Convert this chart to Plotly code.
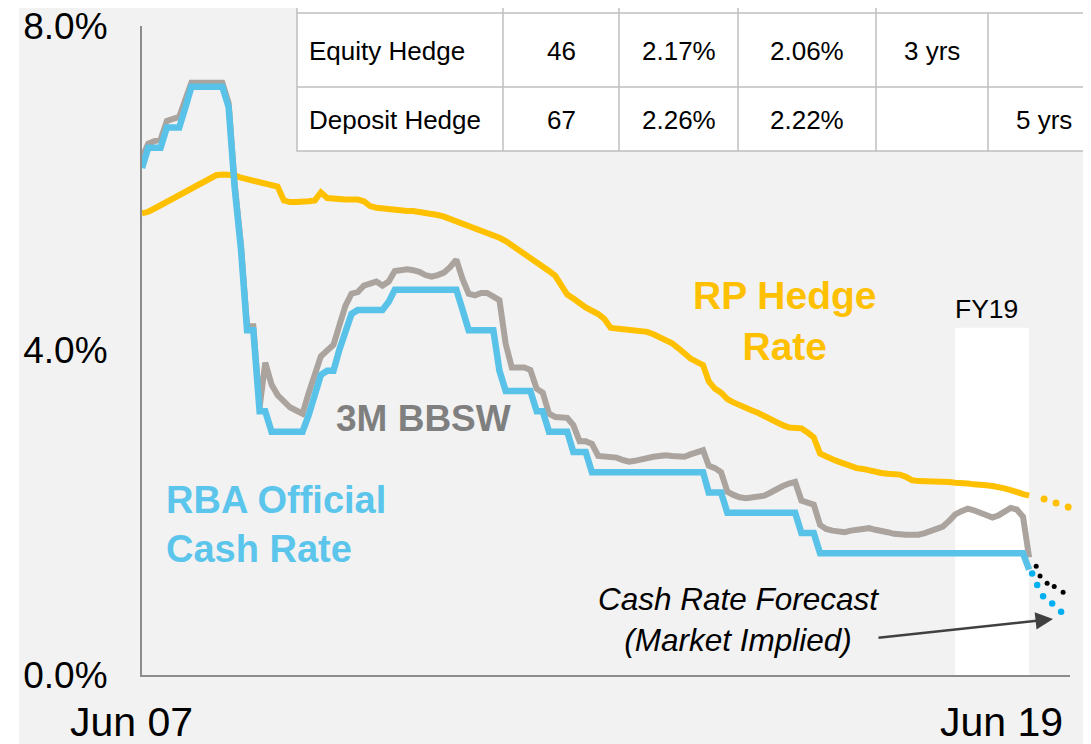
import pandas as pd
import plotly.graph_objects as go

# ---------------- data ----------------
months = pd.date_range("2007-06-30", periods=145, freq="ME")

rba_cash_rate = [
    6.25, 6.5, 6.5, 6.5, 6.75, 6.75, 6.75, 7.0, 7.25, 7.25,
    7.25, 7.25, 7.25, 7.25, 7.0, 6.0, 5.25, 4.25, 4.25, 3.25,
    3.25, 3.0, 3.0, 3.0, 3.0, 3.0, 3.0, 3.2, 3.45, 3.7,
    3.75, 3.75, 4.0, 4.25, 4.45, 4.5, 4.5, 4.5, 4.5, 4.5,
    4.6, 4.75, 4.75, 4.75, 4.75, 4.75, 4.75, 4.75, 4.75, 4.75,
    4.75, 4.75, 4.5, 4.25, 4.25, 4.25, 4.25, 4.25, 3.75, 3.5,
    3.5, 3.5, 3.5, 3.5, 3.25, 3.25, 3.0, 3.0, 3.0, 3.0,
    2.75, 2.75, 2.75, 2.5, 2.5, 2.5, 2.5, 2.5, 2.5, 2.5,
    2.5, 2.5, 2.5, 2.5, 2.5, 2.5, 2.5, 2.5, 2.5, 2.5,
    2.5, 2.5, 2.25, 2.25, 2.25, 2.0, 2.0, 2.0, 2.0, 2.0,
    2.0, 2.0, 2.0, 2.0, 2.0, 2.0, 2.0, 1.75, 1.75, 1.75,
    1.5, 1.5, 1.5, 1.5, 1.5, 1.5, 1.5, 1.5, 1.5, 1.5,
    1.5, 1.5, 1.5, 1.5, 1.5, 1.5, 1.5, 1.5, 1.5, 1.5,
    1.5, 1.5, 1.5, 1.5, 1.5, 1.5, 1.5, 1.5, 1.5, 1.5,
    1.5, 1.5, 1.5, 1.5, 1.3,
]

bbsw_3m = [
    6.38, 6.55, 6.58, 6.6, 6.83, 6.85, 6.88, 7.1, 7.3, 7.3,
    7.3, 7.3, 7.3, 7.3, 7.05, 6.05, 5.3, 4.3, 4.3, 3.3,
    3.85, 3.58, 3.45, 3.38, 3.3, 3.26, 3.22, 3.47, 3.7, 3.93,
    4.0, 4.07, 4.3, 4.55, 4.7, 4.72, 4.8, 4.82, 4.85, 4.8,
    4.85, 4.98, 4.99, 5.0, 4.99, 4.97, 4.93, 4.91, 4.93, 4.96,
    5.03, 5.12, 4.88, 4.7, 4.68, 4.71, 4.71, 4.67, 4.62, 4.08,
    3.79, 3.79, 3.79, 3.76, 3.53, 3.48, 3.22, 3.18, 3.18, 3.17,
    3.08, 2.88, 2.88, 2.85, 2.7, 2.69, 2.69, 2.68, 2.65, 2.63,
    2.64, 2.66, 2.68, 2.69, 2.7, 2.71, 2.7, 2.69, 2.69, 2.72,
    2.75, 2.77, 2.58, 2.55, 2.5, 2.26, 2.22, 2.19, 2.18, 2.19,
    2.2, 2.21, 2.25, 2.3, 2.33, 2.36, 2.38, 2.15, 2.12, 2.1,
    1.85, 1.8, 1.78, 1.77, 1.76, 1.78, 1.79, 1.8, 1.81, 1.79,
    1.78, 1.76, 1.74, 1.73, 1.73, 1.73, 1.73, 1.75, 1.77, 1.79,
    1.83, 1.9, 1.98, 2.02, 2.05, 2.03, 2.0, 1.97, 1.94, 1.97,
    2.02, 2.06, 2.04, 1.95, 1.45,
]

rp_hedge_rate = [
    5.69, 5.71, 5.75, 5.79, 5.83, 5.87, 5.92, 5.95, 5.99, 6.04,
    6.08, 6.13, 6.16, 6.17, 6.17, 6.16, 6.13, 6.11, 6.09, 6.07,
    6.05, 6.03, 6.02, 5.85, 5.83, 5.83, 5.83, 5.84, 5.85, 5.95,
    5.88, 5.87, 5.87, 5.86, 5.86, 5.86, 5.84, 5.78, 5.76, 5.75,
    5.74, 5.73, 5.73, 5.72, 5.72, 5.71, 5.70, 5.69, 5.67, 5.65,
    5.62, 5.59, 5.56, 5.53, 5.50, 5.48, 5.46, 5.43, 5.39, 5.35,
    5.30, 5.24, 5.18, 5.15, 5.09, 5.04, 4.98, 4.92, 4.80, 4.69,
    4.64, 4.58, 4.53, 4.49, 4.45, 4.39, 4.28, 4.27, 4.26, 4.25,
    4.25, 4.24, 4.23, 4.20, 4.17, 4.14, 4.09, 4.03, 3.96, 3.90,
    3.86, 3.82, 3.62, 3.53, 3.48, 3.40, 3.36, 3.32, 3.29, 3.26,
    3.23, 3.19, 3.15, 3.11, 3.08, 3.05, 3.05, 3.04, 2.99, 2.93,
    2.73, 2.69, 2.66, 2.63, 2.60, 2.57, 2.55, 2.54, 2.52, 2.51,
    2.49, 2.48, 2.47, 2.47, 2.44, 2.40, 2.39, 2.39, 2.39, 2.38,
    2.38, 2.38, 2.37, 2.37, 2.36, 2.35, 2.35, 2.34, 2.33, 2.32,
    2.30, 2.28, 2.25, 2.23, 2.21,
]

# market implied forecasts (dotted continuations)
fc_cash_dates = ["2019-07-15", "2019-08-09", "2019-09-07", "2019-10-22", "2019-12-05"]
fc_cash_vals = [1.25, 1.11, 0.97, 0.88, 0.78]
fc_bbsw_dates = ["2019-08-04", "2019-08-23", "2019-09-27", "2019-11-01", "2019-12-15"]
fc_bbsw_vals = [1.34, 1.22, 1.13, 1.09, 1.02]
fc_rp_dates = ["2019-09-12", "2019-11-10", "2020-01-09"]
fc_rp_vals = [2.17, 2.12, 2.07]

fy19_band = ("2018-06-30", "2019-06-30")

y_tick_vals = [0, 4, 8]
y_tick_text = ["0.0%", "4.0%", "8.0%"]
x_tick_labels = ["Jun 07", "Jun 19"]

table_rows = [
    ["Equity Hedge", "46", "2.17%", "2.06%", "3 yrs", ""],
    ["Deposit Hedge", "67", "2.26%", "2.22%", "", "5 yrs"],
]

# ---------------- styling ----------------
FONT = "Liberation Sans, Arial, sans-serif"
BG = "#f2f2f2"
C_RP = "#FFC000"
C_BBSW = "#AAA39E"
C_RBA = "#58C2E8"
C_FC_RBA = "#00B0F0"

# the page body adds an 8px margin, so the figure is drawn 8px smaller and shifted
OFF = 8
W, H = 1091 - OFF, 744 - OFF
ML, MR, MT, MB = 142 - OFF, 21, 26 - OFF, 69
PW, PH = W - ML - MR, H - MT - MB


def px(x):
    # page pixel x -> paper fraction
    return (x - OFF - ML) / PW


def py(y):
    # page pixel y -> paper fraction
    return (H - MB - (y - OFF)) / PH


fig = go.Figure()

fig.add_trace(go.Scatter(x=months, y=rp_hedge_rate, mode="lines",
                         line=dict(color=C_RP, width=6), name="RP Hedge Rate"))
fig.add_trace(go.Scatter(x=months, y=bbsw_3m, mode="lines",
                         line=dict(color=C_BBSW, width=6), name="3M BBSW"))
fig.add_trace(go.Scatter(x=months, y=rba_cash_rate, mode="lines",
                         line=dict(color=C_RBA, width=6.5), name="RBA Official Cash Rate"))
fig.add_trace(go.Scatter(x=fc_rp_dates, y=fc_rp_vals, mode="markers", cliponaxis=False,
                         marker=dict(color=C_RP, size=7)))
fig.add_trace(go.Scatter(x=fc_bbsw_dates, y=fc_bbsw_vals, mode="markers", cliponaxis=False,
                         marker=dict(color="#000000", size=5)))
fig.add_trace(go.Scatter(x=fc_cash_dates, y=fc_cash_vals, mode="markers", cliponaxis=False,
                         marker=dict(color=C_FC_RBA, size=6.5)))

shapes = []
# FY19 white band
shapes.append(dict(type="rect", xref="x", yref="y", x0=fy19_band[0], x1=fy19_band[1],
                   y0=0, y1=4.28, fillcolor="white", line=dict(width=0), layer="below"))
# white strip at left edge of slide
shapes.append(dict(type="rect", xref="paper", yref="paper", x0=px(OFF - 2), x1=px(19),
                   y0=py(760), y1=py(-5), fillcolor="white", line=dict(width=0), layer="below"))

# table
TB = "#BFBFBF"
tx0, tx1 = 297, 1100
ty_top, ty_r1, ty_r2, ty_bot = -5, 13, 87, 151
col_x = [297, 503, 619, 738, 876, 988]
shapes.append(dict(type="rect", xref="paper", yref="paper", x0=px(tx0), x1=px(tx1),
                   y0=py(ty_bot), y1=py(ty_top), fillcolor="white",
                   line=dict(color=TB, width=1.5), layer="above"))
for yy in (ty_r1, ty_r2):
    shapes.append(dict(type="line", xref="paper", yref="paper", x0=px(tx0), x1=px(tx1),
                       y0=py(yy), y1=py(yy), line=dict(color=TB, width=1.5), layer="above"))
for xx in col_x[1:]:
    top = ty_r1 if xx == 988 else ty_top
    shapes.append(dict(type="line", xref="paper", yref="paper", x0=px(xx), x1=px(xx),
                       y0=py(ty_bot), y1=py(top), line=dict(color=TB, width=1.5), layer="above"))

annotations = []
row_y = [51, 120]
col_edges = col_x + [tx1]
for r, row in enumerate(table_rows):
    for c, txt in enumerate(row):
        if not txt:
            continue
        if c == 0:
            annotations.append(dict(xref="paper", yref="paper", x=px(col_x[0] + 10), y=py(row_y[r]),
                                    text=txt, showarrow=False, xanchor="left", yanchor="middle",
                                    font=dict(family=FONT, size=26, color="#000")))
        else:
            cx = (col_edges[c] + col_edges[c + 1]) / 2
            annotations.append(dict(xref="paper", yref="paper", x=px(cx), y=py(row_y[r]),
                                    text=txt, showarrow=False, xanchor="center", yanchor="middle",
                                    font=dict(family=FONT, size=26, color="#000")))

# series labels
annotations += [
    dict(xref="paper", yref="paper", x=px(785), y=py(321), text="RP Hedge<br>Rate",
         showarrow=False, xanchor="center", yanchor="middle", align="center",
         font=dict(family=FONT, size=39, color=C_RP, weight="bold")),
    dict(xref="paper", yref="paper", x=px(423), y=py(418), text="3M BBSW",
         showarrow=False, xanchor="center", yanchor="middle",
         font=dict(family=FONT, size=37, color="#7F7F7F", weight="bold")),
    dict(xref="paper", yref="paper", x=px(164), y=py(524), text="RBA Official<br>Cash Rate",
         showarrow=False, xanchor="left", yanchor="middle", align="left",
         font=dict(family=FONT, size=38, color="#5BC5EC", weight="bold")),
    dict(xref="paper", yref="paper", x=px(738), y=py(619),
         text="<i>Cash Rate Forecast</i><br><i>(Market Implied)</i>",
         showarrow=False, xanchor="center", yanchor="middle", align="center",
         font=dict(family=FONT, size=31.5, color="#000")),
    dict(xref="paper", yref="paper", x=px(986), y=py(309), text="FY19",
         showarrow=False, xanchor="center", yanchor="middle",
         font=dict(family=FONT, size=26.5, color="#000")),
    # arrow
    dict(xref="paper", yref="paper", x=px(1053), y=py(619), ax=877 - 1053, ay=638 - 619,
         axref="pixel", ayref="pixel", text="", showarrow=True, arrowhead=2,
         arrowsize=1.4, arrowwidth=2.5, arrowcolor="#404040", standoff=0),
]

# x tick labels
for lab, date, shift in zip(x_tick_labels, ["2007-06-30", "2019-06-30"], [-11, -28]):
    annotations.append(dict(xref="x", yref="paper", x=date, y=py(722), text=lab,
                            showarrow=False, xanchor="center", yanchor="middle", xshift=shift,
                            font=dict(family=FONT, size=41, color="#000")))

fig.update_layout(
    width=W, height=H,
    margin=dict(l=ML, r=MR, t=MT, b=MB, autoexpand=False),
    paper_bgcolor=BG, plot_bgcolor=BG,
    showlegend=False,
    shapes=shapes,
    annotations=annotations,
    font=dict(family=FONT, color="#000"),
)
fig.update_xaxes(type="date", range=["2007-06-30", "2020-01-18"], showgrid=False,
                 zeroline=False, showline=True, linecolor="#8C8C8C", linewidth=2,
                 showticklabels=False, ticks="", automargin=False)
fig.update_yaxes(range=[0, 8], tickvals=y_tick_vals, ticktext=y_tick_text, showgrid=False,
                 zeroline=False, showline=True, linecolor="#8C8C8C", linewidth=2, ticks="",
                 ticklabelstandoff=25, ticklabeloverflow="allow", automargin=False,
                 tickfont=dict(family=FONT, size=37, color="#000"))

fig.write_html("out.html")
